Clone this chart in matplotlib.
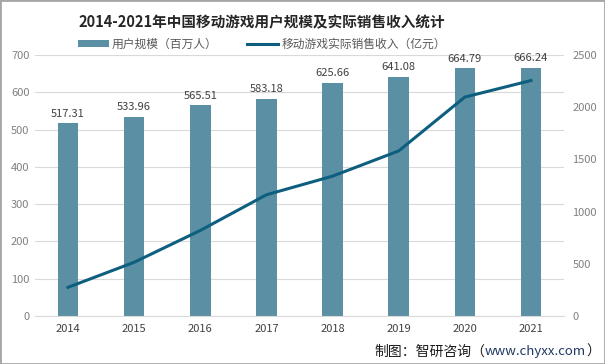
import matplotlib.pyplot as plt
from matplotlib.patches import Rectangle

plt.rcParams['font.family'] = ['Noto Sans CJK SC', 'DejaVu Sans']

years = ['2014', '2015', '2016', '2017', '2018', '2019', '2020', '2021']
users = [517.31, 533.96, 565.51, 583.18, 625.66, 641.08, 664.79, 666.24]
revenue = [274.9, 514.7, 819.6, 1161.2, 1339.6, 1581.1, 2096.8, 2255.4]

bar_color = '#5b8fa3'
line_color = '#0e5f7f'
tick_color = '#808080'

fig = plt.figure(figsize=(6.05, 3.64), dpi=100)
ax = fig.add_axes([35 / 605, 1 - 316 / 364, 529 / 605, 261 / 364])
ax2 = ax.twinx()

x = list(range(len(years)))
bars = ax.bar(x, users, width=0.31, color=bar_color, label='用户规模（百万人）', zorder=2)
for xi, v in zip(x, users):
    ax.text(xi, v + 12, f'{v:.2f}', ha='center', va='bottom', fontsize=8, color='#404040')

line, = ax2.plot(x, revenue, color=line_color, linewidth=2.2, label='移动游戏实际销售收入（亿元）')

ax.set_xlim(-0.5, len(years) - 0.5)
ax.set_ylim(0, 700)
ax.set_yticks(range(0, 701, 100))
ax2.set_ylim(0, 2500)
ax2.set_yticks(range(0, 2501, 500))
ax.set_xticks(x)
ax.set_xticklabels(years)

ax.grid(axis='y', color='#d9d9d9', linewidth=0.8, zorder=0)
for a in (ax, ax2):
    for s in a.spines.values():
        s.set_visible(False)
ax.spines['bottom'].set_visible(True)
ax.spines['bottom'].set_color('#d9d9d9')
ax.tick_params(axis='y', length=0, labelsize=8, labelcolor=tick_color, pad=4)
ax.tick_params(axis='x', length=0, labelsize=8, labelcolor='#404040', pad=6)
ax2.tick_params(axis='y', length=0, labelsize=8, labelcolor=tick_color, pad=6)

fig.text(262 / 605, 1 - 22 / 364, '2014-2021年中国移动游戏用户规模及实际销售收入统计',
         ha='center', va='center', fontsize=10.5, fontweight='bold', color='#262626')
fig.legend(handles=[bars, line], loc='center', bbox_to_anchor=(262 / 605, 1 - 44 / 364),
           ncol=2, frameon=False, fontsize=8.5, labelcolor='#595959',
           handlelength=2.6, handleheight=0.6, columnspacing=2.5, handletextpad=0.3)

# source line, built right to left so the pieces touch
p3 = fig.text(600 / 605, 1 - 352 / 364, '）', ha='right', va='center', fontsize=10,
              color='#1a1a1a')
p2 = fig.add_artist(plt.Annotation('www.chyxx.com', xy=(0, 0.5), xycoords=p3,
                                   ha='right', va='center', fontsize=9.5,
                                   color='#1f3864', annotation_clip=False))
p1 = fig.add_artist(plt.Annotation('制图：智研咨询（', xy=(0, 0.5), xycoords=p2,
                                   ha='right', va='center', fontsize=10,
                                   color='#1a1a1a', annotation_clip=False))

fig.patches.append(Rectangle((0, 0), 1, 1, transform=fig.transFigure, fill=False,
                             edgecolor='#a6a6a6', linewidth=2))

fig.savefig('out.png', dpi=100)
